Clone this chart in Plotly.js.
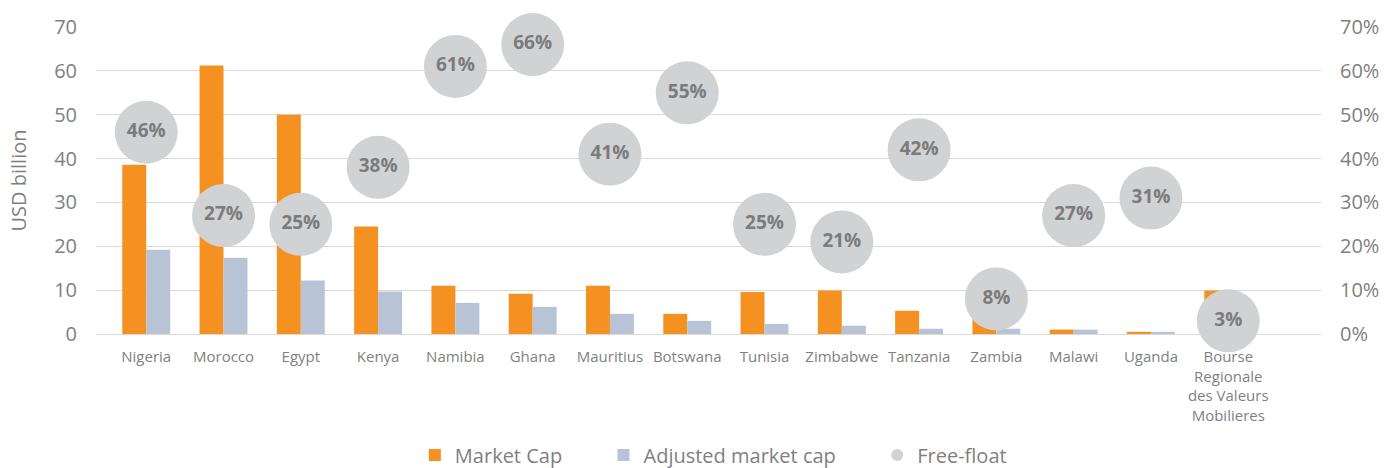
<!DOCTYPE html>
<html>
<head>
<meta charset="utf-8">
<script src="https://cdn.plot.ly/plotly-3.0.1.min.js"></script>
<style>html,body{margin:0;padding:0;background:#fff;}#chart{width:1396px;height:468px;}</style>
</head>
<body>
<div id="chart"></div>
<script>
const categories = ["Nigeria","Morocco","Egypt","Kenya","Namibia","Ghana","Mauritius","Botswana","Tunisia","Zimbabwe","Tanzania","Zambia","Malawi","Uganda","Bourse<br>Regionale<br>des Valeurs<br>Mobilieres"];
const marketCap = [38.6, 61.2, 50.0, 24.5, 11.0, 9.2, 11.0, 4.6, 9.6, 9.9, 5.3, 3.9, 1.0, 0.5, 9.9];
const adjustedMarketCap = [19.2, 17.4, 12.2, 9.7, 7.1, 6.2, 4.6, 3.0, 2.3, 1.9, 1.2, 1.2, 1.0, 0.5, 0.4];
const freeFloat = [46, 27, 25, 38, 61, 66, 41, 55, 25, 21, 42, 8, 27, 31, 3];
const leftTicks = [0, 10, 20, 30, 40, 50, 60, 70];
const rightTicks = [0, 10, 20, 30, 40, 50, 60, 70];
const rightTickText = rightTicks.map(v => v + "%");
const seriesNames = ["Market Cap", "Adjusted market cap", "Free-float"];

const gray = "#7f7f7f";
const font = "Open Sans, Noto Sans, sans-serif";
const pad = "\u00a0".repeat(7);

const traces = [
  {
    type: "bar", name: seriesNames[0] + pad, x: categories, y: marketCap,
    marker: {color: "#f59121"}, hoverinfo: "skip"
  },
  {
    type: "bar", name: seriesNames[1] + pad, x: categories, y: adjustedMarketCap,
    marker: {color: "#b8c3d6"}, hoverinfo: "skip"
  },
  {
    type: "scatter", mode: "markers+text", name: seriesNames[2], x: categories, y: freeFloat,
    yaxis: "y2",
    marker: {size: 63, color: "#d1d2d4", line: {width: 0}},
    text: freeFloat.map(v => v + "%"),
    textposition: "middle center",
    textfont: {family: font, size: 19, color: "#7b7b7b", weight: 700},
    cliponaxis: false, hoverinfo: "skip"
  }
];

const layout = {
  width: 1396, height: 468,
  margin: {l: 96, r: 75, t: 27, b: 134, autoexpand: false},
  paper_bgcolor: "#ffffff", plot_bgcolor: "#ffffff",
  font: {family: font, color: gray},
  barmode: "group", bargap: 0.38, bargroupgap: 0,
  showlegend: true,
  legend: {
    orientation: "h", xref: "container", x: 0.511, xanchor: "center",
    yref: "container", y: 0.028, yanchor: "middle",
    font: {size: 20, color: gray, family: font}, itemsizing: "constant",
    traceorder: "normal", itemwidth: 30
  },
  xaxis: {
    type: "category", range: [-0.65, 15.2], automargin: false,
    tickfont: {size: 15, color: gray, family: font},
    showgrid: false, zeroline: false, showline: false, ticks: "", ticklabelstandoff: 12,
    fixedrange: true
  },
  yaxis: {
    range: [0, 70], tickmode: "array", tickvals: leftTicks, automargin: false,
    tickfont: {size: 20, color: gray, family: font},
    showgrid: true, gridcolor: "#d9d9d9", gridwidth: 1,
    zeroline: true, zerolinecolor: "#d9d9d9", zerolinewidth: 1,
    showline: false, ticks: "", ticklabelstandoff: 18,
    title: {text: "USD billion", font: {size: 20, color: gray, family: font}, standoff: 22}
  },
  yaxis2: {
    overlaying: "y", side: "right", range: [0, 70], automargin: false,
    tickmode: "array", tickvals: rightTicks, ticktext: rightTickText,
    tickfont: {size: 20, color: gray, family: font},
    showgrid: false, zeroline: false, showline: false, ticks: "", ticklabelstandoff: 18
  }
};

Plotly.newPlot("chart", traces, layout, {displayModeBar: false, staticPlot: true});
</script>
</body>
</html>
